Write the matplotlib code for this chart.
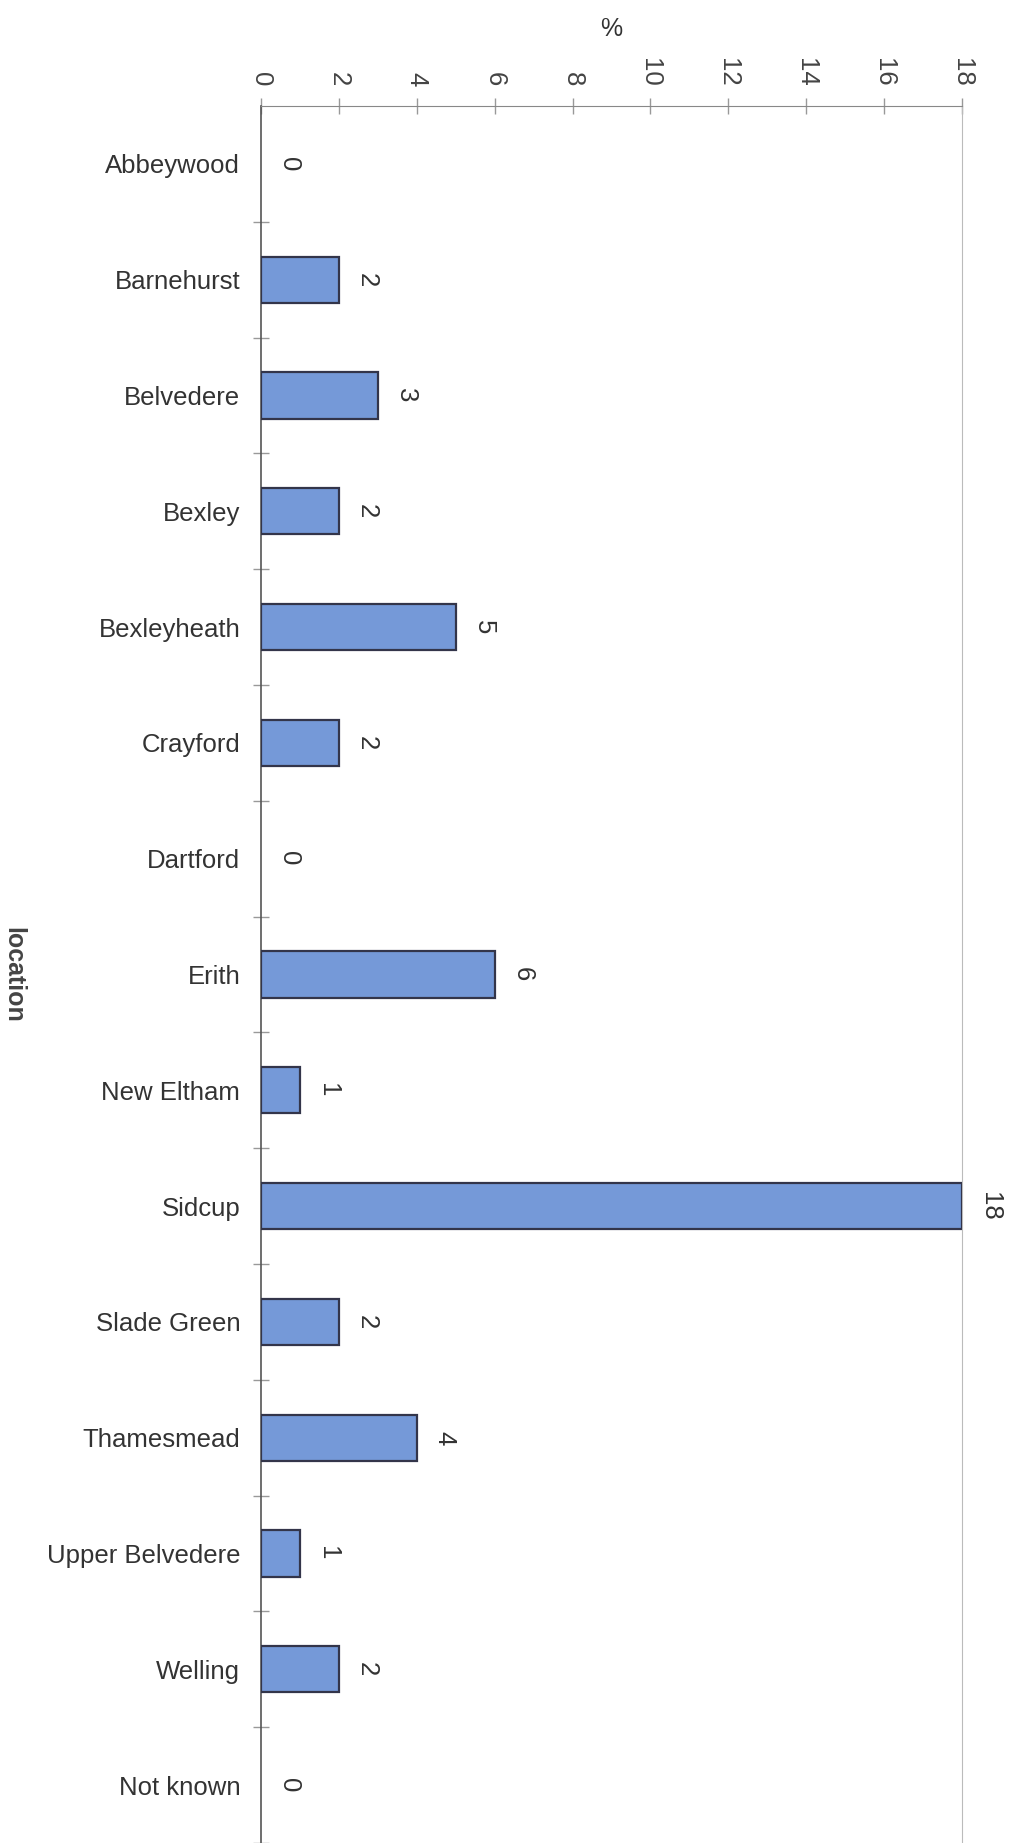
import matplotlib
matplotlib.use("Agg")
import matplotlib.pyplot as plt
import numpy as np

plt.rcParams['font.family'] = ['Liberation Sans', 'DejaVu Sans']

locations = ["Abbeywood", "Barnehurst", "Belvedere", "Bexley", "Bexleyheath",
             "Crayford", "Dartford", "Erith", "New Eltham", "Sidcup",
             "Slade Green", "Thamesmead", "Upper Belvedere", "Welling", "Not known"]
percent = [0, 2, 3, 2, 5, 2, 0, 6, 1, 18, 2, 4, 1, 2, 0]
x_ticks = [0, 2, 4, 6, 8, 10, 12, 14, 16, 18]

fig = plt.figure(figsize=(10.17, 18.43), dpi=100)
ax = fig.add_axes([0.2566, 0.0, 0.946 - 0.2566, 0.9425])

ypos = np.arange(len(locations))
edge_widths = [1.6 if v > 0 else 0 for v in percent]
ax.barh(ypos, percent, height=0.4, color="#7599D8", edgecolor="#33354a",
        linewidth=edge_widths, zorder=3)

ax.set_xlim(0, 18)
ax.set_ylim(len(locations) - 0.5, -0.5)

# value labels beside each bar
for y, v in zip(ypos, percent):
    ax.annotate(f"{v}", xy=(v, y), xytext=(20, 0), textcoords="offset points",
                rotation=270, ha="center", va="center", fontsize=18.5,
                color="#333333")

# x axis on top
ax.xaxis.set_ticks_position("top")
ax.xaxis.set_label_position("top")
ax.set_xticks(x_ticks)
ax.set_xticklabels([str(t) for t in x_ticks], rotation=270, fontsize=18.5,
                   color="#444444")
ax.tick_params(axis="x", direction="inout", length=12, width=1, color="#999999",
               pad=8)
ax.set_xlabel("%", fontsize=18, color="#333333", labelpad=16)

# categories with separator ticks between them
ax.set_yticks(ypos)
ax.set_yticklabels(locations, fontsize=18.5, color="#333333")
ax.set_yticks(np.arange(len(locations)) + 0.5, minor=True)
ax.tick_params(axis="y", which="major", length=0, pad=15)
ax.tick_params(axis="y", which="minor", direction="inout", length=12, width=1,
               color="#999999")
ax.set_ylabel("location", rotation=270, fontsize=18, fontweight="bold",
              color="#444444")
ax.yaxis.set_label_coords(-0.37, 0.5)

ax.spines["bottom"].set_visible(False)
ax.spines["top"].set_color("#888888")
ax.spines["left"].set_color("#555555")
ax.spines["left"].set_linewidth(1.2)
ax.spines["right"].set_color("#bbbbbb")
ax.spines["right"].set_linestyle((0, (2, 1)))

fig.savefig("out.png", dpi=100, facecolor="white")
